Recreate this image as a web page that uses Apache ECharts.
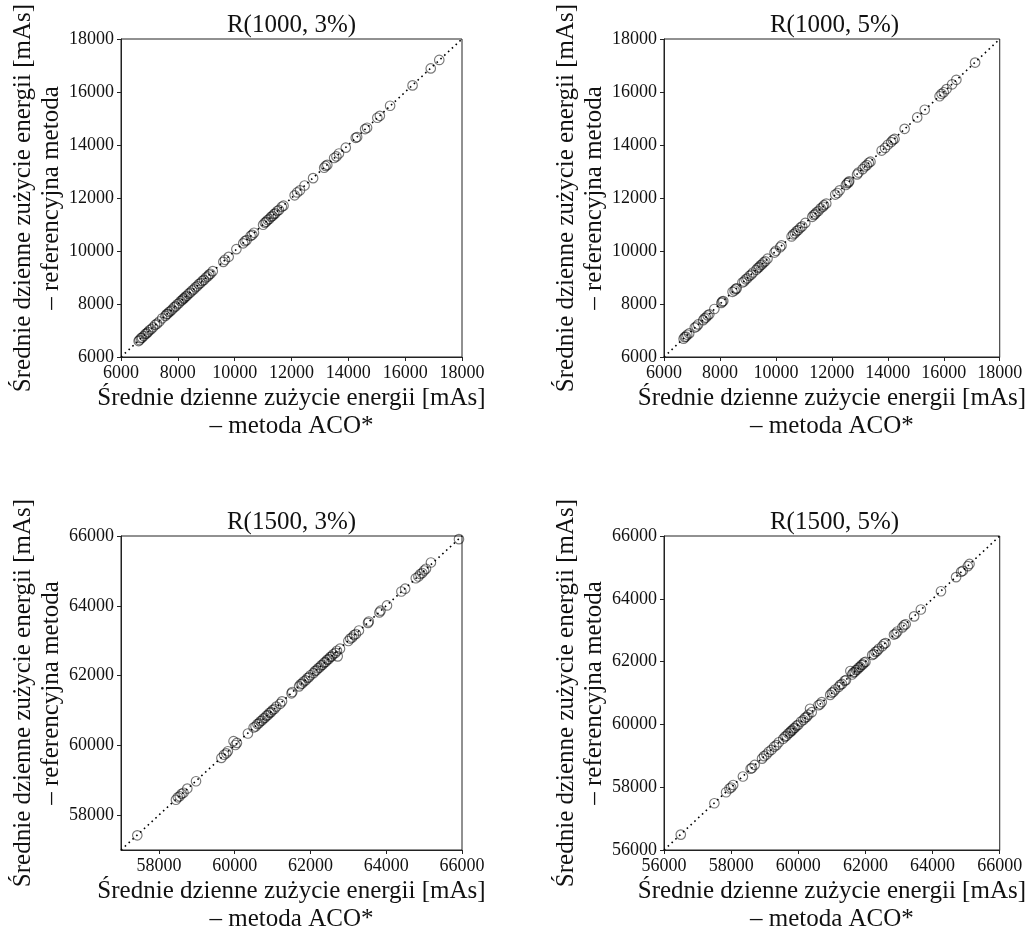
<!DOCTYPE html>
<html>
<head>
<meta charset="utf-8">
<script src="https://cdn.jsdelivr.net/npm/echarts@6/dist/echarts.min.js"></script>
<style>html,body{margin:0;padding:0;background:#fff}#c{width:1028px;height:934px}</style>
</head>
<body>
<div id="c"></div>
<script>
// ---- data ----
const titles = ['R(1000, 3%)', 'R(1000, 5%)', 'R(1500, 3%)', 'R(1500, 5%)'];
const xName = 'Średnie dzienne zużycie energii [mAs]\n– metoda ACO*';
const yName = 'Średnie dzienne zużycie energii [mAs]\n– referencyjna metoda';

const x1 = [6620,6650,6700,6740,6800,6860,6900,6950,7000,7060,7130,7200,7270,7350,7450,7560,7600,7640,7690,7740,7800,7860,7920,7980,8040,8100,8150,8190,8230,8270,8320,8380,8440,8500,8560,8620,8680,8740,8800,8860,8920,8990,9050,9100,9150,9230,9600,9660,9790,10060,10300,10360,10420,10560,10620,10680,11000,11060,11110,11160,11220,11280,11330,11380,11430,11500,11560,11660,11720,12110,12200,12300,12460,12760,13150,13200,13260,13500,13580,13670,13910,14260,14310,14590,14660,15020,15110,15470,16260,16900,17200];
const y1 = [6600,6640,6710,6730,6790,6870,6890,6940,7010,7050,7120,7210,7260,7340,7460,7550,7610,7630,7700,7730,7790,7870,7910,7990,8030,8110,8140,8200,8220,8280,8310,8390,8430,8510,8550,8630,8670,8750,8790,8870,8910,9000,9040,9110,9140,9240,9590,9670,9780,10070,10290,10370,10410,10570,10610,10690,10990,11070,11100,11170,11210,11290,11320,11390,11420,11510,11550,11670,11710,12100,12210,12290,12470,12750,13140,13210,13250,13510,13570,13680,13900,14270,14300,14600,14650,15030,15100,15480,16250,16890,17210];

const x2 = [6700,6740,6780,6830,6900,7100,7160,7220,7400,7450,7500,7560,7620,7800,8050,8080,8120,8450,8520,8560,8600,8800,8860,8920,8980,9050,9120,9180,9300,9350,9400,9450,9500,9560,9620,9700,9950,10000,10150,10200,10560,10620,10680,10740,10800,10870,10940,11050,11300,11350,11400,11450,11520,11600,11680,11720,11800,12120,12200,12280,12500,12550,12600,12620,12900,12950,13100,13180,13250,13320,13380,13780,13900,14000,14120,14180,14240,14600,15050,15320,15850,15920,16000,16100,16300,16450,17120];
const y2 = [6690,6750,6770,6840,6890,7110,7150,7230,7390,7460,7490,7570,7610,7810,8040,8090,8110,8460,8510,8570,8590,8810,8850,8930,8970,9060,9110,9190,9290,9360,9390,9460,9490,9570,9610,9710,9940,10010,10140,10210,10550,10630,10670,10750,10790,10880,10930,11060,11290,11360,11390,11460,11510,11610,11670,11730,11790,12130,12190,12290,12490,12560,12590,12630,12890,12960,13090,13190,13240,13330,13370,13790,13890,14010,14110,14190,14230,14610,15040,15330,15840,15930,15990,16110,16290,16460,17110];

const x3 = [57430,58450,58500,58550,58600,58650,58750,58980,59650,59720,59780,59820,59970,60020,60060,60350,60500,60550,60600,60640,60680,60720,60760,60800,60840,60880,60920,60960,61000,61050,61100,61200,61250,61500,61520,61700,61740,61780,61820,61870,61920,61960,62000,62080,62120,62160,62200,62240,62280,62320,62360,62400,62440,62480,62520,62560,62600,62660,62700,62720,62780,63000,63050,63100,63150,63200,63280,63520,63540,63820,63850,64020,64400,64500,64780,64850,64900,64950,65000,65050,65180,65920];
const y3 = [57420,58440,58510,58540,58610,58640,58760,58970,59640,59730,59770,59830,60120,60010,60070,60340,60510,60540,60610,60630,60690,60710,60770,60790,60850,60870,60930,60950,61010,61040,61110,61190,61260,61490,61530,61690,61750,61770,61830,61860,61930,61950,62010,62070,62130,62150,62210,62230,62290,62310,62370,62390,62450,62470,62530,62550,62610,62650,62710,62550,62770,62990,63060,63090,63160,63190,63290,63510,63550,63810,63860,64010,64410,64490,64790,64840,64910,64940,65010,65060,65240,65910];

const x4 = [56500,57500,57850,57950,58000,58060,58350,58580,58620,58700,58920,58980,59050,59120,59200,59280,59350,59420,59550,59600,59650,59700,59750,59780,59820,59860,59900,59950,60000,60080,60150,60200,60250,60300,60350,60400,60600,60650,60700,60950,61000,61050,61100,61200,61250,61300,61380,61420,61550,61600,61640,61680,61720,61760,61800,61840,61880,61920,61960,62000,62200,62250,62300,62350,62400,62500,62550,62600,62850,62900,62950,63100,63150,63200,63450,63650,64250,64700,64850,64900,65050,65100];
const y4 = [56490,57490,57840,57960,57990,58070,58340,58590,58610,58710,58910,58990,59040,59130,59190,59290,59340,59430,59540,59610,59640,59710,59740,59790,59810,59870,59890,59960,59990,60090,60140,60210,60240,60310,60500,60390,60610,60640,60710,60940,61010,61040,61110,61190,61260,61290,61390,61410,61700,61590,61650,61670,61730,61750,61810,61830,61890,61910,61970,61990,62210,62240,62310,62340,62410,62490,62560,62590,62860,62890,62960,63090,63160,63190,63440,63660,64240,64690,64860,64890,65040,65110];

const diag1 = [[6000,6000],[18000,18000]];
const diag2 = [[6000,6000],[18000,18000]];
const diag3 = [[57000,57000],[66000,66000]];
const diag4 = [[56000,56000],[66000,66000]];

const ticks1 = [6000,8000,10000,12000,14000,16000,18000];
const ticks2 = [6000,8000,10000,12000,14000,16000,18000];
const ticks3 = [58000,60000,62000,64000,66000];
const ticks4 = [56000,58000,60000,62000,64000,66000];
const ranges = [[6000,18000],[6000,18000],[57000,66000],[56000,66000]];

// ---- chart ----
const FONT = 'Liberation Serif';
const pairs = (xs, ys) => xs.map((v, i) => [v, ys[i]]);
const scatterData = [pairs(x1,y1), pairs(x2,y2), pairs(x3,y3), pairs(x4,y4)];
const diags = [diag1, diag2, diag3, diag4];
const tickSets = [ticks1, ticks2, ticks3, ticks4];

const gridPos = [
  {left:121, top:39, width:341, height:318},
  {left:664, top:39, width:341, height:318},
  {left:121, top:536, width:341, height:318},
  {left:664, top:536, width:341, height:318}
];

function axis(i, isX) {
  return {
    type: 'value', gridIndex: i,
    min: ranges[i][0], max: ranges[i][1],
    name: isX ? xName : yName,
    nameLocation: 'middle',
    nameGap: isX ? 27 : 44,
    nameTextStyle: {fontFamily: FONT, fontSize: 25, color: '#111', lineHeight: 28},
    axisLine: {show: true, onZero: false, lineStyle: {color: '#222', width: 1}},
    axisTick: {show: true, length: 4, inside: false, customValues: tickSets[i], lineStyle: {color: '#222'}},
    axisLabel: {show: true, customValues: tickSets[i], formatter: v => String(v),
      fontFamily: FONT, fontSize: 18, color: '#111', margin: 7},
    splitLine: {show: false}
  };
}

const option = {
  animation: false,
  backgroundColor: '#fff',
  grid: gridPos.map(g => Object.assign({show: true, borderColor: '#222', borderWidth: 1, backgroundColor: 'transparent'}, g)),
  xAxis: [0,1,2,3].map(i => axis(i, true)),
  yAxis: [0,1,2,3].map(i => axis(i, false)),
  graphic: titles.map((t, i) => ({
    type: 'text',
    x: gridPos[i].left + gridPos[i].width / 2,
    y: gridPos[i].top - 14,
    style: {text: t, align: 'center', verticalAlign: 'middle', font: '25px "' + FONT + '"', fill: '#111'}
  })),
  series: [].concat(
    [0,1,2,3].map(i => ({
      type: 'scatter', xAxisIndex: i, yAxisIndex: i,
      data: scatterData[i], symbol: 'circle', symbolSize: 9.5,
      itemStyle: {color: 'rgba(0,0,0,0)', borderColor: 'rgba(0,0,0,0.66)', borderWidth: 1.15},
      emphasis: {disabled: true}, z: 2
    })),
    [0,1,2,3].map(i => ({
      type: 'line', xAxisIndex: i, yAxisIndex: i,
      data: diags[i], showSymbol: false, symbol: 'none',
      lineStyle: {color: '#000', width: 1.6, type: [1.6, 3.6], cap: 'butt'},
      z: 3, silent: true
    }))
  )
};

echarts.init(document.getElementById('c')).setOption(option);
</script>
</body>
</html>
